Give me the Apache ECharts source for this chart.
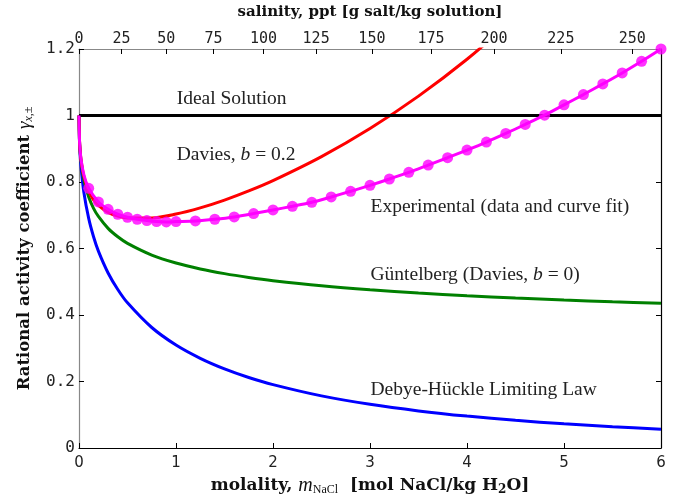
<!DOCTYPE html>
<html><head><meta charset="utf-8">
<script src="https://cdn.jsdelivr.net/npm/echarts@6/dist/echarts.min.js"></script>
<style>html,body{margin:0;padding:0;background:#fff}#c{width:686px;height:497px}</style>
</head><body><div id="c"></div>
<script>
// ---- data ----
const molality = [0, 0.005, 0.01, 0.02, 0.05, 0.1, 0.15, 0.2, 0.3, 0.4, 0.5, 0.75, 1, 1.25, 1.5, 1.75, 2, 2.5, 3, 3.5, 4, 4.5, 5, 5.5, 6];
const debyeHuckel = [1, 0.9205, 0.8894, 0.8473, 0.7693, 0.6904, 0.6353, 0.5920, 0.5263, 0.4767, 0.4366, 0.3624, 0.3097, 0.2698, 0.2380, 0.2121, 0.1906, 0.1567, 0.1313, 0.1116, 0.0959, 0.0832, 0.0727, 0.0640, 0.0566];
const guntelberg = [1, 0.9255, 0.8990, 0.8649, 0.8072, 0.7547, 0.7208, 0.6963, 0.6605, 0.6352, 0.6154, 0.5803, 0.5564, 0.5386, 0.5245, 0.5130, 0.5033, 0.4878, 0.4757, 0.4659, 0.4578, 0.4509, 0.4449, 0.4397, 0.4350];
const davies = [1, 0.9266, 0.9010, 0.8689, 0.8167, 0.7725, 0.7464, 0.7295, 0.7085, 0.6975, 0.6920, 0.6921, 0.7036, 0.7222, 0.7457, 0.7732, 0.8042, 0.8764, 0.9609, 1.0583, 1.1691, 1.2947, null, null, null];
const idealM = [0, 6];
const idealG = [1, 1];
const fitLeadM = [0, 0.005, 0.01, 0.02, 0.05];
const fitLeadG = [1, 0.928, 0.902, 0.870, 0.822];
const expM = [0.1, 0.2, 0.3, 0.4, 0.5, 0.6, 0.7, 0.8, 0.9, 1.0, 1.2, 1.4, 1.6, 1.8, 2.0, 2.2, 2.4, 2.6, 2.8, 3.0, 3.2, 3.4, 3.6, 3.8, 4.0, 4.2, 4.4, 4.6, 4.8, 5.0, 5.2, 5.4, 5.6, 5.8, 6.0];
const expG = [0.781, 0.740, 0.718, 0.703, 0.694, 0.688, 0.684, 0.681, 0.680, 0.681, 0.683, 0.688, 0.695, 0.705, 0.716, 0.727, 0.739, 0.755, 0.772, 0.790, 0.809, 0.829, 0.851, 0.873, 0.896, 0.920, 0.946, 0.973, 1.001, 1.032, 1.063, 1.095, 1.128, 1.163, 1.200];
const salinityTicks = [0, 25, 50, 75, 100, 125, 150, 175, 200, 225, 250];
const yTicks = [0, 0.2, 0.4, 0.6, 0.8, 1, 1.2];

// salinity (g salt / kg solution) -> molality (mol NaCl / kg H2O)
const MW = 58.44;
const salToMol = s => s / (MW * (1 - s / 1000));
const salTickPos = salinityTicks.map(salToMol);

const pairs = (xs, ys) => xs.map((x, i) => [x, ys[i]]);

const serif = 'Liberation Serif';
const titleFont = 'DejaVu Serif';
const mono = 'DejaVu Sans Mono';

const chart = echarts.init(document.getElementById('c'), null, {renderer: 'canvas'});
const opt = {
  animation: false,
  backgroundColor: '#fff',
  grid: {left: 79, right: 25, top: 49, bottom: 49, containLabel: false, outerBoundsMode: 'none'},
  xAxis: [
    {type: 'value', position: 'bottom', min: 0, max: 6, interval: 1,
     axisLine: {show: true, onZero: false, lineStyle: {color: '#000', width: 1.2}},
     axisTick: {show: true, inside: true, length: 5, lineStyle: {color: '#000'}},
     axisLabel: {color: '#222', fontFamily: 'DejaVu Sans', fontSize: 15, margin: 8},
     splitLine: {show: false},
     name: '{b|molality, }{i|m}{s|NaCl}{b|  [mol NaCl/kg H}{bs|2}{b|O]}',
     nameLocation: 'middle', nameGap: 24,
     nameTextStyle: {rich: {
       b: {fontFamily: titleFont, fontWeight: 'bold', fontSize: 17, color: '#111'},
       i: {fontFamily: serif, fontStyle: 'italic', fontSize: 20, color: '#111'},
       s: {fontFamily: serif, fontSize: 12, color: '#111', padding: [8, 0, 0, 0]},
       bs: {fontFamily: titleFont, fontWeight: 'bold', fontSize: 12, color: '#111', padding: [8, 0, 0, 0]}
     }}},
    {type: 'value', position: 'top', min: 0, max: 6,
     axisLine: {show: true, onZero: false, lineStyle: {color: '#888', width: 1.2}},
     axisTick: {show: true, inside: true, length: 5, lineStyle: {color: '#000'}, customValues: salTickPos},
     axisLabel: {color: '#222', fontFamily: mono, fontSize: 15, margin: 2, customValues: salTickPos,
       formatter: v => { let best = 0; salTickPos.forEach((p, i) => { if (Math.abs(p - v) < Math.abs(salTickPos[best] - v)) best = i; }); return String(salinityTicks[best]); }},
     splitLine: {show: false},
     name: 'salinity, ppt [g salt/kg solution]', nameLocation: 'middle', nameGap: 29,
     nameTextStyle: {fontFamily: titleFont, fontWeight: 'bold', fontSize: 15, color: '#111'}}
  ],
  yAxis: [
    {type: 'value', position: 'left', min: 0, max: 1.2, interval: 0.2,
     axisLine: {show: true, onZero: false, lineStyle: {color: '#888', width: 1.2}},
     axisTick: {show: true, inside: true, length: 5, lineStyle: {color: '#000'}},
     axisLabel: {color: '#222', fontFamily: mono, fontSize: 16, margin: 4,
       formatter: v => { const t = yTicks.find(y => Math.abs(y - v) < 1e-6); return t === undefined ? '' : String(t); }},
     splitLine: {show: false},
     name: '{b|Rational activity coefficient }{g|γ}{s|x,±}',
     nameLocation: 'middle', nameGap: 41, nameRotate: 90,
     nameTextStyle: {rich: {
       b: {fontFamily: titleFont, fontWeight: 'bold', fontSize: 16.5, color: '#111'},
       g: {fontFamily: serif, fontStyle: 'italic', fontSize: 19, color: '#111'},
       s: {fontFamily: serif, fontStyle: 'italic', fontSize: 12, color: '#111', padding: [8, 0, 0, 0]}
     }}},
    {type: 'value', position: 'right', min: 0, max: 1.2, interval: 0.2,
     axisLine: {show: true, onZero: false, lineStyle: {color: '#000', width: 1.2}},
     axisTick: {show: true, inside: true, length: 5, lineStyle: {color: '#000'}},
     axisLabel: {show: false}, splitLine: {show: false}}
  ],
  series: [
    {name: 'Debye-Hückel', type: 'line', data: pairs(molality, debyeHuckel), symbol: 'none', smooth: 0.3,
     lineStyle: {color: '#0000ff', width: 3}, clip: true, z: 2},
    {name: 'Güntelberg', type: 'line', data: pairs(molality, guntelberg), symbol: 'none', smooth: 0.3,
     lineStyle: {color: '#008000', width: 3}, clip: true, z: 3},
    {name: 'Davies', type: 'line', data: pairs(molality, davies), symbol: 'none', smooth: 0.3,
     lineStyle: {color: '#ff0000', width: 3}, clip: true, z: 4, connectNulls: false},
    {name: 'Ideal', type: 'line', data: pairs(idealM, idealG), symbol: 'none',
     lineStyle: {color: '#000', width: 3}, clip: true, z: 5},
    {name: 'Fit', type: 'line', data: pairs(fitLeadM, fitLeadG).concat(pairs(expM, expG)), symbol: 'none', smooth: 0.3,
     lineStyle: {color: '#ff00ff', width: 3}, clip: false, z: 6},
    {name: 'Experimental', type: 'scatter', data: pairs(expM, expG), symbol: 'circle', symbolSize: 11,
     itemStyle: {color: '#ff00ff'}, clip: false, z: 7}
  ]
};
chart.setOption(opt);

// annotations anchored in data space
const notes = [
  {at: [1.007, 1.049], text: 'Ideal Solution'},
  {at: [1.007, 0.883], text: 'Davies, {i|b} = 0.2'},
  {at: [3.005, 0.726], text: 'Experimental (data and curve fit)'},
  {at: [3.005, 0.520], text: 'Güntelberg (Davies, {i|b} = 0)'},
  {at: [3.005, 0.174], text: 'Debye-Hückle Limiting Law'}
];
const graphics = notes.map(n => {
  const p = chart.convertToPixel({xAxisIndex: 0, yAxisIndex: 0}, n.at);
  return {type: 'text', x: p[0], y: p[1], z: 100,
    style: {text: n.text, fontFamily: serif, fontSize: 19.5, fill: '#222', align: 'left', verticalAlign: 'middle',
      rich: {i: {fontFamily: serif, fontStyle: 'italic', fontSize: 19.5, fill: '#222'}}}};
});
chart.setOption({graphic: graphics});
</script></body></html>
